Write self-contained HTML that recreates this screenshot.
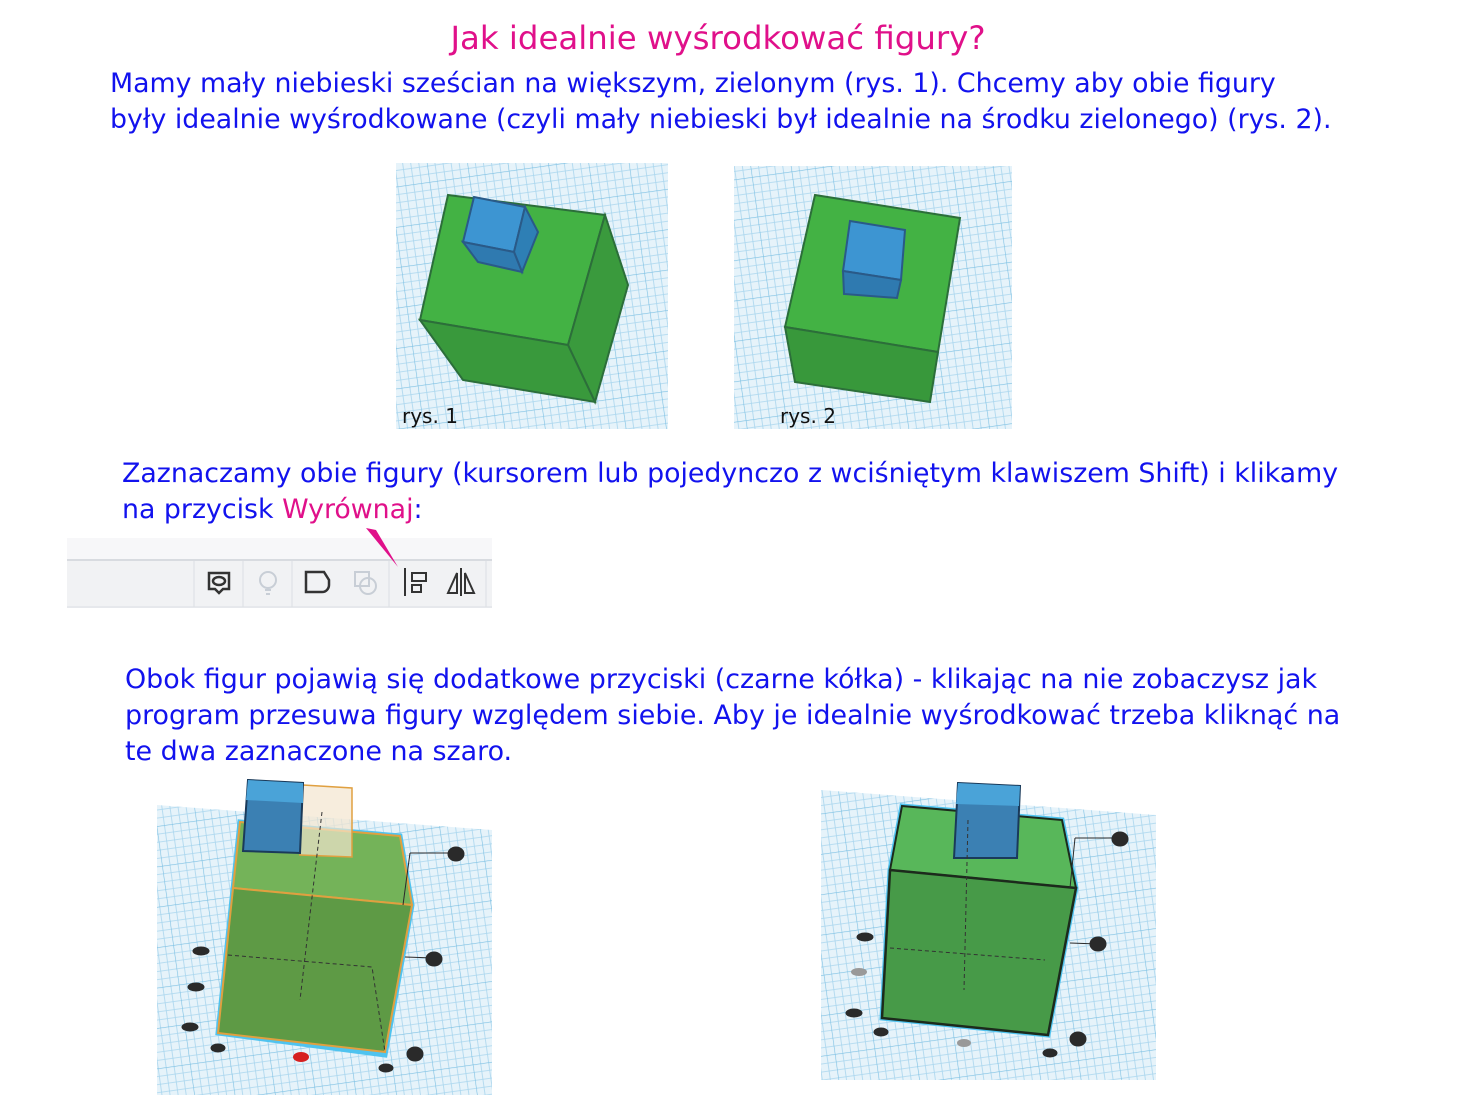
<!DOCTYPE html>
<html><head><meta charset="utf-8"><style>
body{margin:0;width:1475px;height:1118px;background:#fff;position:relative;overflow:hidden;font-family:"DejaVu Sans","Liberation Sans",sans-serif}
.t{position:absolute;white-space:nowrap;font-size:26.8px;color:#1212ee;line-height:36px}
.p{color:#e0108a}
svg{position:absolute;left:0;top:0}
</style></head><body>
<svg width="1475" height="1118">
<defs>
<pattern id="g" width="40" height="40" patternUnits="userSpaceOnUse" patternTransform="rotate(-8)">
<rect width="40" height="40" fill="#e6f3fa"/>
<path d="M0 0H40M0 8H40M0 16H40M0 24H40M0 32H40M0 0V40M8 0V40M16 0V40M24 0V40M32 0V40" stroke="#a9d6ee" stroke-width="0.8"/>
<path d="M0 0H40M0 0V40" stroke="#7cc0e3" stroke-width="1.2"/>
</pattern>
</defs>
<rect x="396" y="163" width="272" height="266" fill="url(#g)"/>
<polygon points="448,195 605,215 568,345 420,320" fill="#43b244" stroke="#2c6e3a" stroke-width="2"/>
<polygon points="605,215 628,285 595,402 568,345" fill="#3a9a3d" stroke="#2c6e3a" stroke-width="2"/>
<polygon points="420,320 568,345 595,402 463,380" fill="#39993c" stroke="#2c6e3a" stroke-width="2"/>
<polygon points="474,197 525,207 514,252 463,242" fill="#3d95d2" stroke="#2a5a88" stroke-width="2"/>
<polygon points="525,207 538,232 522,272 514,252" fill="#2e7fb5" stroke="#2a5a88" stroke-width="2"/>
<polygon points="463,242 514,252 522,272 478,262" fill="#2f7ab0" stroke="#2a5a88" stroke-width="2"/>
<text x="402" y="423" font-size="20" font-family="DejaVu Sans,sans-serif" fill="#111">rys. 1</text>
<rect x="734" y="166" width="278" height="263" fill="url(#g)"/>
<polygon points="815,195 960,218 938,352 785,327" fill="#43b244" stroke="#2c6e3a" stroke-width="2"/>
<polygon points="785,327 938,352 930,402 795,382" fill="#38983b" stroke="#2c6e3a" stroke-width="2"/>
<polygon points="850,221 905,230 901,280 843,271" fill="#3d95d2" stroke="#2a5a88" stroke-width="2"/>
<polygon points="843,271 901,280 897,298 844,294" fill="#2f7ab0" stroke="#2a5a88" stroke-width="2"/>
<text x="780" y="423" font-size="20" font-family="DejaVu Sans,sans-serif" fill="#111">rys. 2</text>
<rect x="67" y="538" width="425" height="22" fill="#f7f7f9"/>
<rect x="67" y="560" width="425" height="48" fill="#f1f2f4"/>
<line x1="67" y1="560" x2="492" y2="560" stroke="#d8dbe0" stroke-width="2"/>
<line x1="67" y1="607" x2="492" y2="607" stroke="#dcdfe3"/>
<g stroke="#dcdfe3"><line x1="194" y1="561" x2="194" y2="607"/><line x1="243" y1="561" x2="243" y2="607"/><line x1="292" y1="561" x2="292" y2="607"/><line x1="389" y1="561" x2="389" y2="607"/><line x1="486" y1="561" x2="486" y2="607"/></g>
<g fill="none" stroke="#333" stroke-width="2.5">
<path d="M209 573h20v16h-6l-4 4-4-4h-6z"/><ellipse cx="219" cy="581" rx="6" ry="4"/>
<path d="M306 572h18l5 8v5a7 7 0 0 1-7 7h-16z"/>
<path d="M405 568v28M412 573h14v8h-14zM412 585h9v7h-9z" stroke-width="2"/>
<path d="M461 568v28M457 573l-9 20h9zM465 573l9 20h-9z" stroke-width="2"/>
</g>
<g fill="none" stroke="#c8ced6" stroke-width="2"><circle cx="268" cy="580" r="8"/><path d="M265 590h6M266 594h4"/><rect x="355" y="572" width="14" height="14"/><circle cx="368" cy="586" r="8"/></g>
<polygon points="366,528 398,567 376,530" fill="#e0108a"/>
<rect x="157" y="775" width="335" height="320" fill="#fff"/>
<polygon points="157,805 492,830 492,1095 157,1095" fill="url(#g)"/>
<polygon points="240,822 400,836 412,905 385,1055 218,1033" fill="none" stroke="#4fc3ef" stroke-width="5"/>
<polygon points="240,822 400,836 412,905 233,888" fill="#74b359" stroke="#e0a040" stroke-width="2"/>
<polygon points="233,888 412,905 385,1052 218,1033" fill="#5e9a45" stroke="#e0a040" stroke-width="2"/>
<polygon points="303,785 352,788 352,857 300,855" fill="#f3e6cf" fill-opacity="0.7" stroke="#e0a040" stroke-width="1.5"/>
<polygon points="248,780 303,783 300,853 243,851" fill="#3b80b3" stroke="#1a3a5a" stroke-width="2"/>
<polygon points="248,780 303,783 303,803 246,800" fill="#4aa3d8"/>
<path d="M322 812L300 1000M228 955L372 967L385 1052" stroke="#333" stroke-dasharray="4 3" fill="none"/>
<g fill="#2a2a2a" stroke="#2a2a2a"><line x1="410" y1="853" x2="456" y2="853"/><line x1="410" y1="853" x2="403" y2="905"/><ellipse cx="456" cy="854" rx="8" ry="7"/><line x1="405" y1="957" x2="434" y2="958"/><ellipse cx="434" cy="959" rx="8" ry="7"/><ellipse cx="201" cy="951" rx="8" ry="4"/><ellipse cx="196" cy="987" rx="8" ry="4"/><ellipse cx="190" cy="1027" rx="8" ry="4"/><ellipse cx="218" cy="1048" rx="7" ry="4"/><ellipse cx="415" cy="1054" rx="8" ry="7"/><ellipse cx="386" cy="1068" rx="7" ry="4"/></g>
<ellipse cx="301" cy="1057" rx="8" ry="5" fill="#d62020"/>
<rect x="821" y="749" width="335" height="331" fill="#fff"/>
<polygon points="821,790 1156,815 1156,1080 821,1080" fill="url(#g)"/>
<polygon points="902,806 1062,820 1076,888 1048,1035 882,1018 890,870" fill="none" stroke="#4fc3ef" stroke-width="5"/>
<polygon points="902,806 1062,820 1076,888 890,870" fill="#58b75a" stroke="#1c2a1c" stroke-width="2"/>
<polygon points="890,870 1076,888 1048,1035 882,1018" fill="#479a48" stroke="#1c2a1c" stroke-width="2.5"/>
<polygon points="958,783 1020,786 1017,858 954,858" fill="#3b80b3" stroke="#1a3a5a" stroke-width="2"/>
<polygon points="958,783 1020,786 1019,806 956,804" fill="#4aa3d8"/>
<path d="M968 820L964 990M890 948L1045 960" stroke="#333" stroke-dasharray="4 3" fill="none"/>
<g fill="#2a2a2a" stroke="#2a2a2a"><line x1="1075" y1="838" x2="1120" y2="838"/><line x1="1075" y1="838" x2="1070" y2="888"/><ellipse cx="1120" cy="839" rx="8" ry="7"/><line x1="1070" y1="943" x2="1098" y2="944"/><ellipse cx="1098" cy="944" rx="8" ry="7"/><ellipse cx="865" cy="937" rx="8" ry="4"/><ellipse cx="854" cy="1013" rx="8" ry="4"/><ellipse cx="881" cy="1032" rx="7" ry="4"/><ellipse cx="1078" cy="1039" rx="8" ry="7"/><ellipse cx="1050" cy="1053" rx="7" ry="4"/></g>
<ellipse cx="859" cy="972" rx="8" ry="4" fill="#999"/><ellipse cx="964" cy="1043" rx="7" ry="4" fill="#999"/>
</svg>
<div class="t p" style="left:0;width:1436px;text-align:center;top:20px;font-size:32.4px">Jak idealnie wyśrodkować figury?</div>
<div class="t" style="left:110px;top:66px">Mamy mały niebieski sześcian na większym, zielonym (rys. 1). Chcemy aby obie figury<br>były idealnie wyśrodkowane (czyli mały niebieski był idealnie na środku zielonego) (rys. 2).</div>
<div class="t" style="left:122px;top:456px">Zaznaczamy obie figury (kursorem lub pojedynczo z wciśniętym klawiszem Shift) i klikamy<br>na przycisk <span class="p">Wyrównaj</span>:</div>
<div class="t" style="left:125px;top:662px;font-size:26.9px">Obok figur pojawią się dodatkowe przyciski (czarne kółka) - klikając na nie zobaczysz jak<br>program przesuwa figury względem siebie. Aby je idealnie wyśrodkować trzeba kliknąć na<br>te dwa zaznaczone na szaro.</div>
</body></html>
